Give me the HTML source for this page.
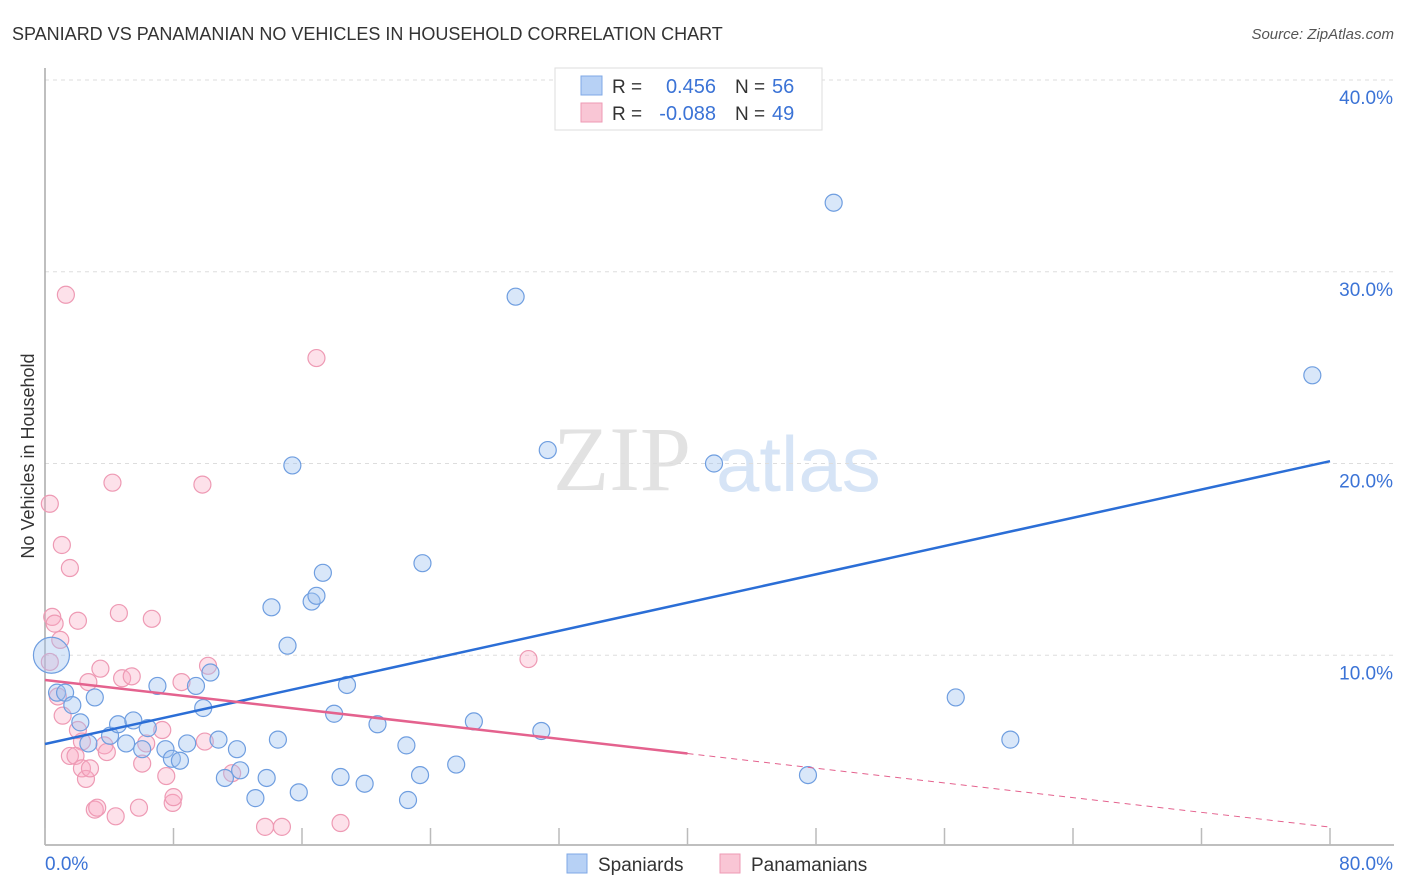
<!DOCTYPE html>
<html><head><meta charset="utf-8"><style>
body{margin:0;background:#fff;font-family:"Liberation Sans",sans-serif}
#wrap{position:relative;width:1406px;height:892px;overflow:hidden}
</style></head><body>
<div id="wrap">
<svg id="chart" width="1406" height="892"></svg>
</div>
<script>
const spaniardX=[0.4,0.75,1.25,1.7,3.1,2.2,2.7,4.05,4.55,5.05,5.5,6.05,6.4,7.0,7.5,7.9,8.4,8.85,9.4,9.85,10.3,10.8,11.2,11.95,12.15,13.1,13.8,14.5,14.1,15.1,15.4,15.8,16.6,16.9,17.3,18.0,18.4,18.8,19.9,20.7,22.5,22.6,23.35,23.5,25.6,26.7,29.3,30.9,31.3,41.65,47.5,49.1,56.7,60.1,78.9];
const spaniardY=[10.0,8.05,8.05,7.4,7.8,6.5,5.4,5.8,6.4,5.4,6.6,5.1,6.2,8.4,5.1,4.6,4.5,5.4,8.4,7.25,9.1,5.6,3.6,5.1,4.0,2.55,3.6,5.6,12.5,10.5,19.9,2.85,12.8,13.1,14.3,6.95,3.65,8.45,3.3,6.4,5.3,2.45,3.75,14.8,4.3,6.55,28.7,6.05,20.7,20.0,3.75,33.6,7.8,5.6,24.6];
const panamanianX=[0.3,0.45,0.6,0.95,1.05,0.3,1.3,1.55,2.05,0.8,1.1,2.05,2.3,2.7,1.55,1.9,2.3,2.55,2.8,3.1,3.25,3.45,3.7,3.85,4.2,4.4,4.6,4.8,5.4,5.85,6.05,6.3,6.65,7.3,7.55,7.95,8.0,8.5,9.8,9.95,10.15,11.65,13.7,14.75,16.9,18.4,30.1];
const panamanianY=[17.9,12.0,11.65,10.8,15.75,9.65,28.8,14.55,11.8,7.85,6.85,6.1,5.5,8.6,4.75,4.75,4.1,3.55,4.1,1.95,2.05,9.3,5.3,4.95,19.0,1.6,12.2,8.8,8.9,2.05,4.35,5.4,11.9,6.1,3.7,2.3,2.6,8.6,18.9,5.5,9.45,3.85,1.05,1.05,25.5,1.25,9.8];
const trendSpan=[0,40,80];
const spaniardTrend=[5.37,20.12];
const panamanianTrend=[8.71,1.04];
const yTicks=[10,20,30,40];
const yTickLabels=["10.0%","20.0%","30.0%","40.0%"];
const xTicks=[0,8,16,24,32,40,48,56,64,72,80];

const L=45,R=1330,B=847,T=80;
const sx=v=>L+(v/80)*(R-L);
const sy=v=>B-(v/40)*(B-T);
const svg=document.getElementById('chart');
const NS='http://www.w3.org/2000/svg';
function mk(tag,attrs,parent){const e=document.createElementNS(NS,tag);for(const k in attrs)e.setAttribute(k,attrs[k]);(parent||svg).appendChild(e);return e;}

let t=mk('text',{x:12,y:40,'font-size':18,fill:'#333'});


t.textContent='SPANIARD VS PANAMANIAN NO VEHICLES IN HOUSEHOLD CORRELATION CHART';
t=mk('text',{x:1394,y:39,'font-size':15,fill:'#555','text-anchor':'end','font-style':'italic'});


t.textContent='Source: ZipAtlas.com';

t=mk('text',{x:553,y:490,'font-size':92,fill:'#e2e2e2','font-family':'Liberation Serif'});


t.textContent='ZIP';
t=mk('text',{x:716,y:491,'font-size':78,fill:'#d6e4f6'});


t.textContent='atlas';

yTicks.forEach((v,i)=>{
  let g=mk('line',{x1:L,x2:1394,y1:sy(v),y2:sy(v),stroke:'#ddd','stroke-dasharray':'4,4'});
  
  
  let lb=mk('text',{x:1393,y:sy(v)+24,'font-size':19,fill:'#3b73d6','text-anchor':'end'});
  
  
  lb.textContent=yTickLabels[i];
});
let a=mk('line',{x1:L,x2:L,y1:68,y2:845,stroke:'#aaa','stroke-width':1.5});


a=mk('line',{x1:L,x2:1394,y1:845,y2:845,stroke:'#aaa','stroke-width':1.5});


xTicks.forEach(v=>{
  let k=mk('line',{x1:sx(v),x2:sx(v),y1:828,y2:845,stroke:'#bbb','stroke-width':1.5});
  
  
});
t=mk('text',{x:45,y:870,'font-size':19,fill:'#3b73d6'});


t.textContent='0.0%';
t=mk('text',{x:1393,y:870,'font-size':19,fill:'#3b73d6','text-anchor':'end'});


t.textContent='80.0%';
t=mk('text',{x:34,y:456,'font-size':18,fill:'#333','text-anchor':'middle',transform:'rotate(-90 34 456)'});


t.textContent='No Vehicles in Household';

panamanianX.forEach((x,i)=>{
  let c=mk('circle',{cx:sx(x),cy:sy(panamanianY[i]),r:8.5,fill:'rgba(248,170,195,0.35)',stroke:'#ee9ab4','stroke-width':1.2});
  
  
});
spaniardX.forEach((x,i)=>{
  let c=mk('circle',{cx:sx(x),cy:sy(spaniardY[i]),r:i===0?18:8.5,fill:'rgba(160,195,240,0.4)',stroke:'#6f9ee0','stroke-width':1.2});
  
  
});

const py=x=>panamanianTrend[0]+(panamanianTrend[1]-panamanianTrend[0])*x/trendSpan[2];
let ln=mk('line',{x1:sx(trendSpan[0]),y1:sy(spaniardTrend[0]),x2:sx(trendSpan[2]),y2:sy(spaniardTrend[1]),stroke:'#2b6ed6','stroke-width':2.5});


ln=mk('line',{x1:sx(trendSpan[0]),y1:sy(py(trendSpan[0])),x2:sx(trendSpan[1]),y2:sy(py(trendSpan[1])),stroke:'#e4628e','stroke-width':2.5});


ln=mk('line',{x1:sx(trendSpan[1]),y1:sy(py(trendSpan[1])),x2:sx(trendSpan[2]),y2:sy(py(trendSpan[2])),stroke:'#e4628e','stroke-width':1,'stroke-dasharray':'6,5'});



let g=mk('g',{});


mk('rect',{x:555,y:68,width:267,height:62,fill:'#fff',stroke:'#ddd'},g);
mk('rect',{x:581,y:76,width:21,height:19,fill:'#b7d1f5',stroke:'#7fa8e6'},g);
mk('rect',{x:581,y:103,width:21,height:19,fill:'#f9c6d5',stroke:'#ee9ab4'},g);
[['R = ','0.456','56',93],['R = ','-0.088','49',120]].forEach(r=>{
  let a1=mk('text',{x:612,y:r[3],'font-size':19,fill:'#333'},g);a1.textContent=r[0];
  let a2=mk('text',{x:716,y:r[3],'font-size':20,fill:'#3b73d6','text-anchor':'end'},g);a2.textContent=r[1];
  let a3=mk('text',{x:735,y:r[3],'font-size':19,fill:'#333'},g);a3.textContent='N = ';
  let a4=mk('text',{x:772,y:r[3],'font-size':20,fill:'#3b73d6'},g);a4.textContent=r[2];
});

g=mk('g',{});


mk('rect',{x:567,y:854,width:20,height:19,fill:'#b7d1f5',stroke:'#7fa8e6'},g);
t=mk('text',{x:598,y:871,'font-size':19,fill:'#333'},g);t.textContent='Spaniards';
mk('rect',{x:720,y:854,width:20,height:19,fill:'#f9c6d5',stroke:'#ee9ab4'},g);
t=mk('text',{x:751,y:871,'font-size':19,fill:'#333'},g);t.textContent='Panamanians';
</script>
</body></html>
